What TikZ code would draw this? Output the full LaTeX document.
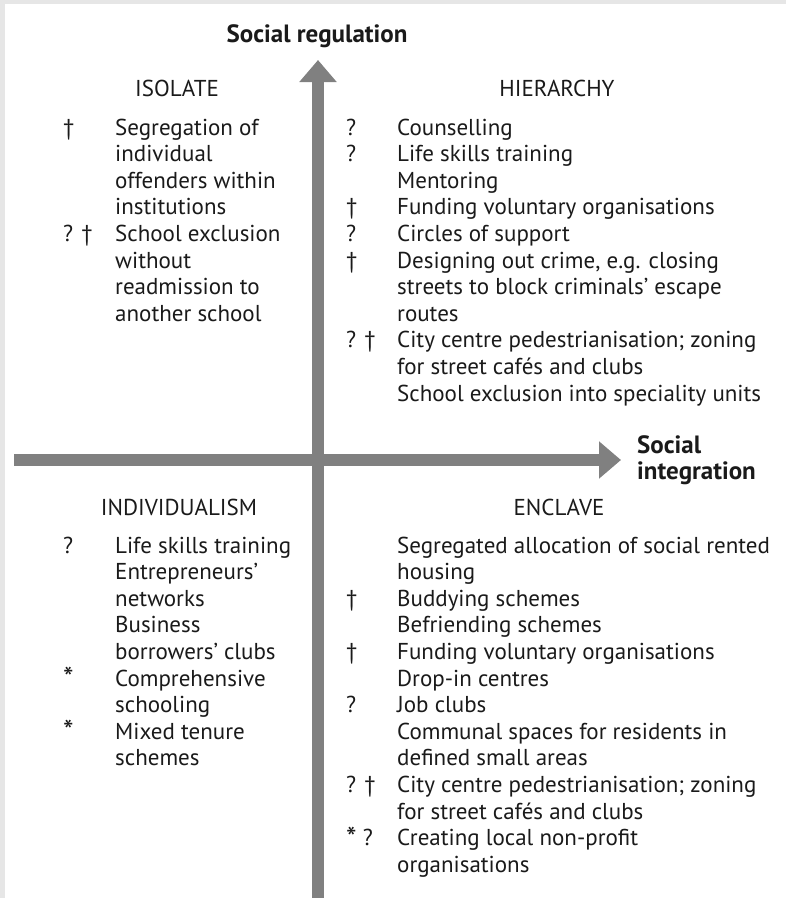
\documentclass[tikz,border=0pt]{standalone}
\usepackage{fontspec}
\setmainfont{PT Sans}
\newfontfamily\headfont{PT Sans}
\usetikzlibrary{arrows.meta}
\definecolor{bggray}{HTML}{E6E6E6}
\definecolor{axisgray}{HTML}{808080}
\definecolor{ink}{HTML}{1A1A1A}
\newcommand\myast{\raisebox{-2.5pt}[0pt][0pt]{\scalebox{1.3}{*}}}
\begin{document}
\begin{tikzpicture}[x=1pt,y=-1pt,
  axis/.style={draw=axisgray, line width=12pt, -{Triangle[width=36pt,length=22pt]}},
  quad/.style={anchor=base west, inner sep=0pt, font=\fontsize{23}{26.6}\selectfont, text=ink},
  head/.style={anchor=center, inner sep=0pt, font=\headfont\fontsize{23}{26.6}\selectfont, text=ink},
  axlabel/.style={inner sep=0pt, font=\bfseries\fontsize{25}{26}\selectfont, text=ink, align=left}]
\useasboundingbox (0,0) rectangle (786,898);
\fill[bggray] (0,0) rectangle (786,898);
\fill[white] (5,4) rectangle (786,898);
% axes
\coordinate (vbot) at (318,898);
\coordinate (vtop) at (318,60);
\coordinate (hleft) at (14,460);
\coordinate (hright) at (621,460);
\draw[axis] (vbot) -- (vtop);
\draw[axis] (hleft) -- (hright);
% axis labels
\node[axlabel, anchor=center] (sreg) at (317,36) {Social regulation};
\node[axlabel, anchor=base west] (sint) at (637,479) {Social\\integration};
% quadrant headings
\node[head] (isolate) at (177,88) {ISOLATE};
\node[head] (hierarchy) at (557,88) {HIERARCHY};
\node[head] (indiv) at (179,507) {INDIVIDUALISM};
\node[head] (enclave) at (559,507) {ENCLAVE};
% quadrant lists
\node[quad] (isolist) at (63,135) {\begin{tabular}[t]{@{}p{52pt}@{}l@{}}
† & Segregation of\\
 & individual\\
 & offenders within\\
 & institutions\\
? † & School exclusion\\
 & without\\
 & readmission to\\
 & another school
\end{tabular}};
\node[quad] (hierlist) at (346,135) {\begin{tabular}[t]{@{}p{51pt}@{}l@{}}
? & Counselling\\
? & Life skills training\\
 & Mentoring\\
† & Funding voluntary organisations\\
? & Circles of support\\
† & Designing out crime, e.g. closing\\
 & streets to block criminals’ escape\\
 & routes\\
? † & City centre pedestrianisation; zoning\\
 & for street cafés and clubs\\
 & School exclusion into speciality units
\end{tabular}};
\node[quad] (indlist) at (63,553) {\begin{tabular}[t]{@{}p{52pt}@{}l@{}}
? & Life skills training\\
 & Entrepreneurs’\\
 & networks\\
 & Business\\
 & borrowers’ clubs\\
\myast & Comprehensive\\
 & schooling\\
\myast & Mixed tenure\\
 & schemes
\end{tabular}};
\node[quad] (enclist) at (346,553) {\begin{tabular}[t]{@{}p{51pt}@{}l@{}}
 & Segregated allocation of social rented\\
 & housing\\
† & Buddying schemes\\
 & Befriending schemes\\
† & Funding voluntary organisations\\
 & Drop-in centres\\
? & Job clubs\\
 & Communal spaces for residents in\\
 & defined small areas\\
? † & City centre pedestrianisation; zoning\\
 & for street cafés and clubs\\
\myast{} ? & Creating local non-profit\\
 & organisations
\end{tabular}};
\end{tikzpicture}
\end{document}
